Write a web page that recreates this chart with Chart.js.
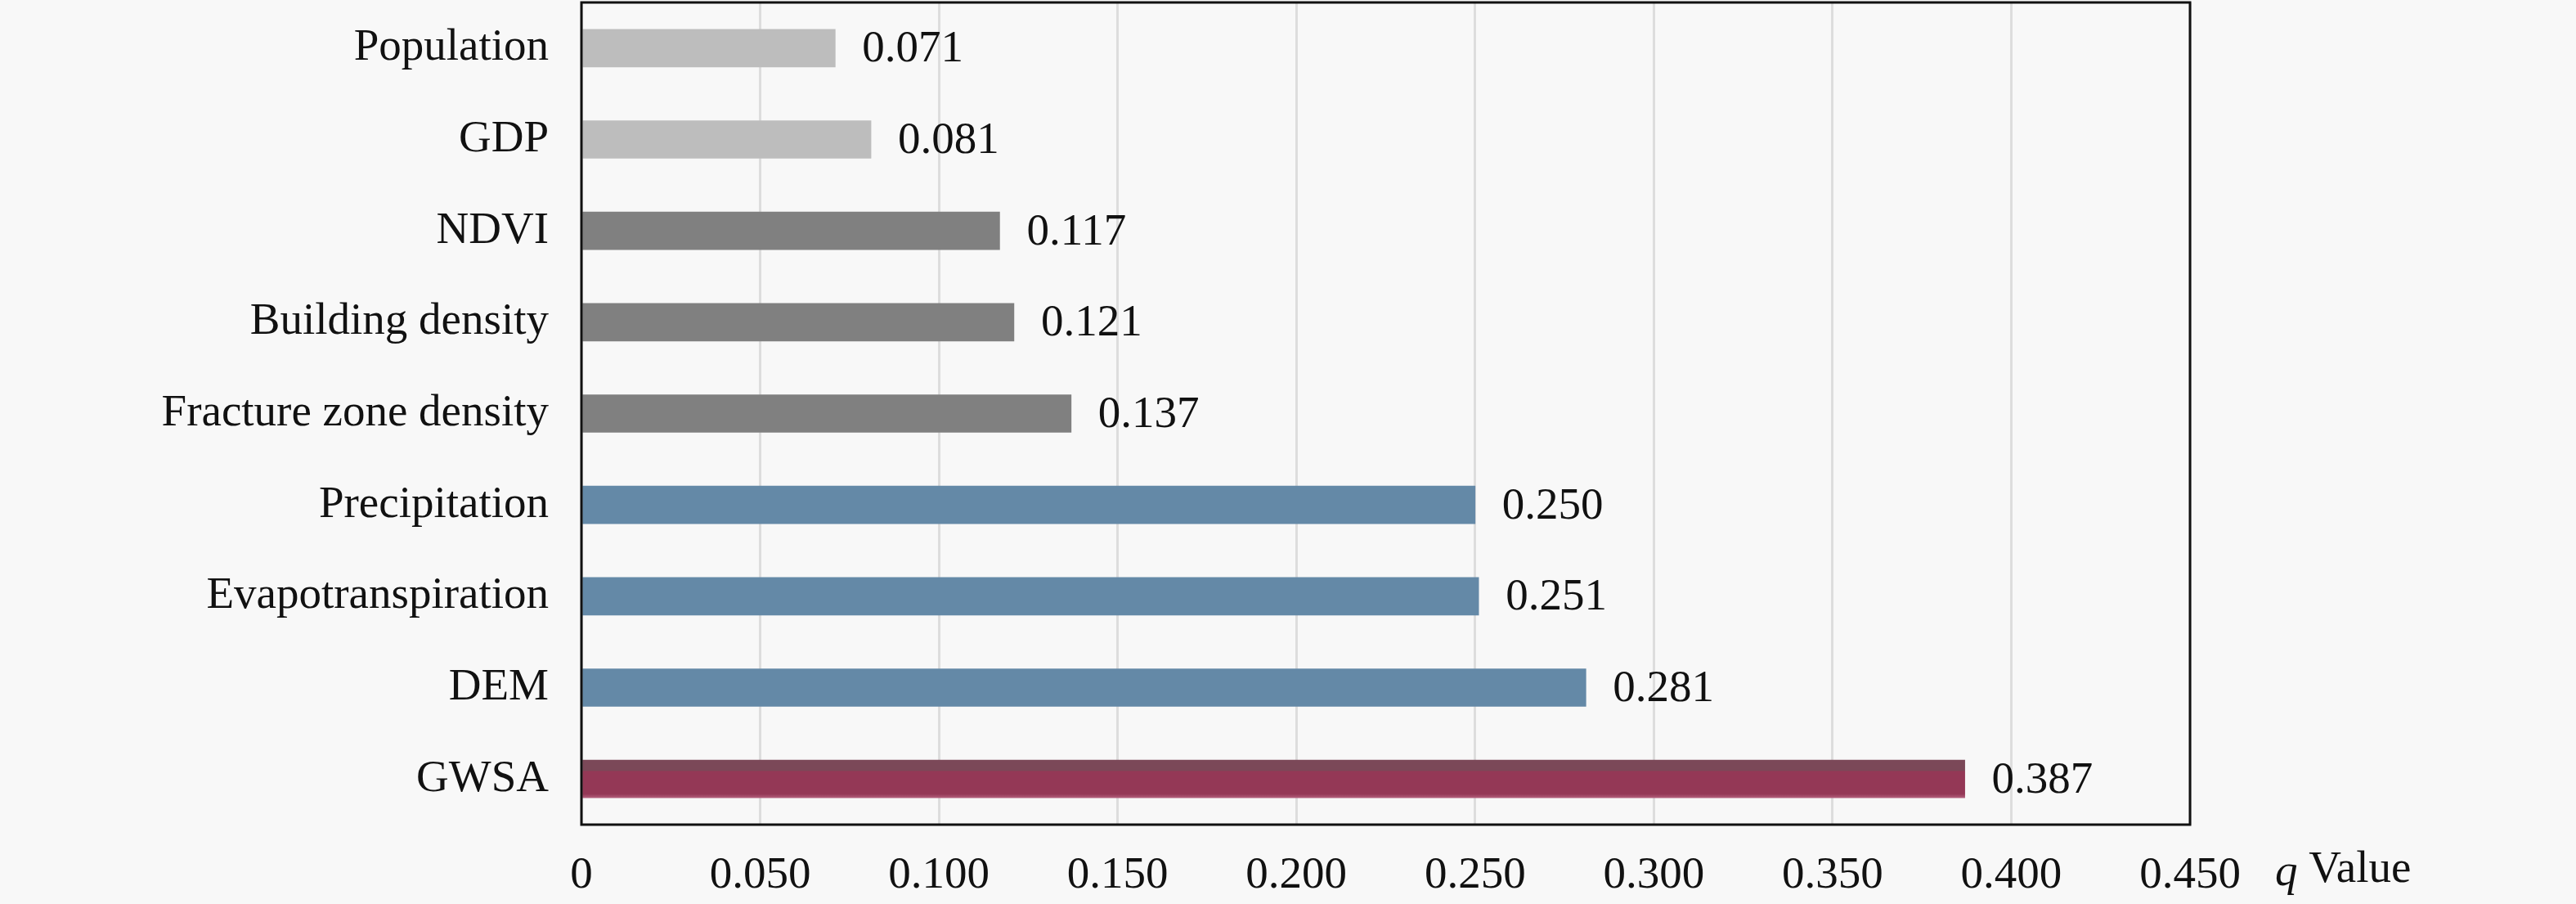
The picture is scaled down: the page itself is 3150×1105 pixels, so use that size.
<!DOCTYPE html>
<html>
<head>
<meta charset="utf-8">
<script src="https://cdn.jsdelivr.net/npm/chart.js@4/dist/chart.umd.min.js"></script>
<style>
	html, body { margin: 0; padding: 0; background: #f8f8f8; }
	#wrap { width: 3150px; height: 1105px; }
</style>
</head>
<body>
<div id="wrap"><canvas id="myChart" width="3150" height="1105"></canvas></div>
<script>
const factors = ["Population", "GDP", "NDVI", "Building density", "Fracture zone density", "Precipitation", "Evapotranspiration", "DEM", "GWSA"];
const qValues = [0.071, 0.081, 0.117, 0.121, 0.137, 0.250, 0.251, 0.281, 0.387];
const qLabels = ["0.071", "0.081", "0.117", "0.121", "0.137", "0.250", "0.251", "0.281", "0.387"];
const xTicks = [0, 0.05, 0.1, 0.15, 0.2, 0.25, 0.3, 0.35, 0.4, 0.45];
const xTickLabels = ["0", "0.050", "0.100", "0.150", "0.200", "0.250", "0.300", "0.350", "0.400", "0.450"];

const FONT = "'Liberation Serif', 'Times New Roman', serif";
// light gray, dark gray, blue, red  -> per bar
const barColors = ["#bdbdbd", "#bdbdbd", "#808080", "#808080", "#808080", "#6489a7", "#6489a7", "#6489a7", "#943856"];

function barFill(c) {
	let base = barColors[c.dataIndex];
	let ys = c.chart.scales && c.chart.scales.y;
	if (c.dataIndex !== 8 || !ys) return base;
	// GWSA bar has a darker band on top
	let y = ys.getPixelForValue(c.dataIndex);
	let g = c.chart.ctx.createLinearGradient(0, y - 23, 0, y + 23);
	g.addColorStop(0, "#7b4858");
	g.addColorStop(0.27, "#7b4858");
	g.addColorStop(0.3, "#943856");
	g.addColorStop(0.9, "#943856");
	g.addColorStop(1, "#b25f7c");
	return g;
}

let framePlugin = {
	id: "frame",
	afterDatasetsDraw(chart) {
		let ctx = chart.ctx;
		let meta = chart.getDatasetMeta(0);
		ctx.save();
		ctx.font = "55px " + FONT;
		ctx.fillStyle = "#111";
		ctx.textAlign = "left";
		ctx.textBaseline = "middle";
		meta.data.forEach((bar, i) => {
			ctx.fillText(qLabels[i], bar.x + 33, bar.y + 2);
		});
		ctx.restore();
	},
	afterDraw(chart) {
		let ctx = chart.ctx;
		let a = chart.chartArea;
		ctx.save();
		ctx.strokeStyle = "#111";
		ctx.lineWidth = 3;
		ctx.strokeRect(a.left, a.top, a.right - a.left, a.bottom - a.top);

		// axis title "q Value" to the right of the tick labels
		let y = 1082;
		let x = a.right + 104;
		ctx.fillStyle = "#111";
		ctx.textBaseline = "alphabetic";
		ctx.textAlign = "left";
		ctx.font = "italic 55px " + FONT;
		ctx.fillText("q", x, y);
		x += ctx.measureText("q ").width;
		ctx.font = "55px " + FONT;
		ctx.fillText("Value", x, y - 4);
		ctx.restore();
	}
};

new Chart(document.getElementById("myChart"), {
	type: "bar",
	data: {
		labels: factors,
		datasets: [{
			data: qValues,
			backgroundColor: barFill,
			borderWidth: 0,
			barThickness: 46,
			categoryPercentage: 1
		}]
	},
	options: {
		indexAxis: "y",
		responsive: false,
		devicePixelRatio: 1,
		animation: false,
		layout: { padding: { top: 3, right: 472, left: 0, bottom: 0 } },
		plugins: {
			legend: { display: false },
			tooltip: { enabled: false }
		},
		scales: {
			x: {
				min: 0,
				max: 0.45,
				afterBuildTicks: s => { s.ticks = xTicks.map(v => ({ value: v })); },
				afterFit: s => { s.height = 97; s.paddingLeft = 0; s.paddingRight = 0; },
				grid: { color: "#dddddd", lineWidth: 3, drawTicks: false },
				border: { display: false },
				ticks: {
					font: { family: FONT, size: 55 },
					color: "#111",
					padding: 30,
					maxRotation: 0,
					autoSkip: false,
					callback: (v, i) => xTickLabels[i]
				}
			},
			y: {
				afterFit: s => { s.width = 711; s.paddingTop = 0; s.paddingBottom = 0; },
				grid: { display: false },
				border: { display: false },
				ticks: {
					font: { family: FONT, size: 55 },
					color: "#111",
					padding: 32,
					autoSkip: false
				}
			}
		}
	},
	plugins: [framePlugin]
});
</script>
</body>
</html>
